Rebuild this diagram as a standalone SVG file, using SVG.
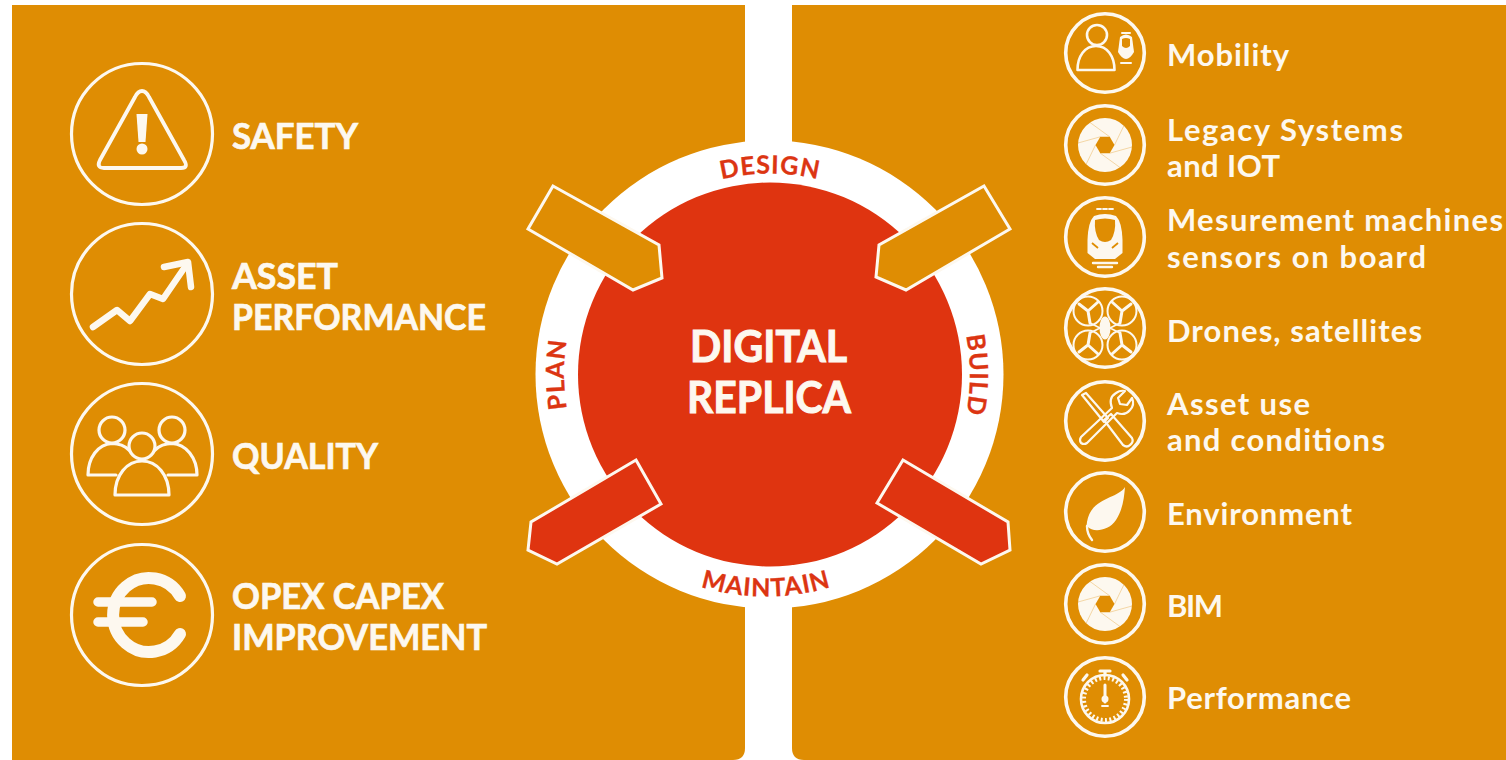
<svg xmlns="http://www.w3.org/2000/svg" width="1506" height="760" viewBox="0 0 1506 760">
<style>
.panel{fill:#DF8D03}
.ring{fill:none;stroke:#FDF8EF}
.big{stroke-width:3.2}
.small{stroke-width:3.6}
.line{fill:none;stroke:#FDF8EF;stroke-linecap:round;stroke-linejoin:round}
.solid{fill:#FDF8EF}
.org{fill:#DF8D03}
.lt{font-family:"Lato","Liberation Sans",sans-serif;font-weight:700;font-size:36px;fill:#FDF8EF;stroke:#FDF8EF;stroke-width:.7}
.rt{font-family:"Lato","Liberation Sans",sans-serif;font-weight:700;font-size:31px;fill:#FDF8EF}
.ct{font-family:"Lato","Liberation Sans",sans-serif;font-weight:700;font-size:44px;fill:#FDF8EF;stroke:#FDF8EF;stroke-width:1}
.arc{font-family:"Lato","Liberation Sans",sans-serif;font-weight:700;font-size:25px;fill:#DC3512;stroke:#DC3512;stroke-width:.3;text-anchor:middle;letter-spacing:1px}
.arrow{stroke:#FDF8EF;stroke-width:3;stroke-linejoin:miter}
</style>
<defs>
<path id="pDesign" d="M569 374.500A201 201 0 0 1 971 374.500"/>
<path id="pMaintain" d="M544 374.500A222 222 0 0 0 988 374.500"/>
<path id="pPlan" d="M767 577.500A203 203 0 0 1 767 171.500"/>
<path id="pBuild" d="M770 175A200 200 0 0 1 770 575"/>
<g id="shutter">
<circle r="27" class="solid"/>
<polygon points="9.500,0 4.700,8.200 -4.700,8.200 -9.500,0 -4.700,-8.200 4.700,-8.200" class="org"/>
<path d="M9.500 0L19 -19.500M4.700 -8.200L-15 -22.500M-4.700 -8.200L-27 -2M-9.500 0L-19 19.500M-4.700 8.200L15 22.500M4.700 8.200L27 2" fill="none" stroke="#DF8D03" stroke-width="0.700" opacity="0.450"/>
</g>
</defs>
<rect width="1506" height="760" fill="#FFFFFF"/>
<g id="panels">
<path class="panel" d="M12 5H745V748Q745 760 733 760H12Z"/>
<path class="panel" d="M792 5H1506V760H804Q792 760 792 748Z"/>
</g>
<g id="hub">
<circle cx="769.500" cy="374.500" r="234" fill="#FFFFFF"/>
<circle cx="770" cy="374.500" r="192" fill="#DF3410"/>
<text class="ct" x="690" y="362" textLength="157" lengthAdjust="spacingAndGlyphs">DIGITAL</text>
<text class="ct" x="687" y="412.500" textLength="164" lengthAdjust="spacingAndGlyphs">REPLICA</text>
<text class="arc"><textPath href="#pDesign" startOffset="50%">DESIGN</textPath></text>
<text class="arc"><textPath href="#pMaintain" startOffset="50%">MAINTAIN</textPath></text>
<text class="arc"><textPath href="#pPlan" startOffset="50%">PLAN</textPath></text>
<text class="arc"><textPath href="#pBuild" startOffset="50%">BUILD</textPath></text>
</g>
<g id="connectors">
<polygon class="arrow" fill="#DF8D03" points="553,186 659,245 662,278 633,290 528,229"/>
<polygon class="arrow" fill="#DF8D03" points="984,186 1010,229 906,290 876,277 879,245"/>
<polygon class="arrow" fill="#DF3410" points="636,460 661,504 557,564 528,550 531,522"/>
<polygon class="arrow" fill="#DF3410" points="903,460 1008,522 1010,550 981,564 877,503"/>
</g>
<g id="safety">
<circle class="ring big" cx="142" cy="134" r="70.500"/>
<path class="line" stroke-width="3.800" d="M142 91Q138 91 135 97L100 160Q96 168 104 168H181Q189 168 184 160L149 97Q146 91 142 91Z"/>
<path class="solid" d="M136.500 114H147.500L145.500 142H138.500Z"/>
<circle class="solid" cx="142" cy="149" r="5.500"/>
<text class="lt" x="232" y="149" textLength="126" lengthAdjust="spacingAndGlyphs">SAFETY</text>
</g>
<g id="asset-performance">
<circle class="ring big" cx="142" cy="294" r="70.500"/>
<path class="line" stroke-width="6.500" d="M93 327L117 310L130 321L150 294L163 299L187 264"/>
<path class="line" stroke-width="6.500" d="M164 267L188 262L191 287"/>
<text class="lt" x="232" y="289" textLength="106" lengthAdjust="spacingAndGlyphs">ASSET</text>
<text class="lt" x="232" y="330" textLength="254" lengthAdjust="spacingAndGlyphs">PERFORMANCE</text>
</g>
<g id="quality">
<circle class="ring big" cx="142" cy="454" r="70.500"/>
<g class="line" stroke-width="3.200">
<circle cx="112" cy="430" r="13"/>
<circle cx="172" cy="430" r="13"/>
<circle cx="142" cy="446" r="13"/>
<path d="M116 475H88C88 458 98 444 112 443.500C118 443.500 124 445 129 450"/>
<path d="M168 475H197C197 458 186 444 172 443.500C166 443.500 160 445 155 450"/>
<path d="M115 495H169C169 475 157 461 142 461C127 461 115 475 115 495Z"/>
</g>
<text class="lt" x="232" y="469" textLength="146" lengthAdjust="spacingAndGlyphs">QUALITY</text>
</g>
<g id="opex-capex">
<circle class="ring big" cx="142" cy="615" r="70.500"/>
<path class="line" stroke-width="12" d="M180 596A36 37 0 1 0 180 634"/>
<path class="line" stroke-width="9.500" d="M98 602H152M98 622H143"/>
<text class="lt" x="232" y="609" textLength="212" lengthAdjust="spacingAndGlyphs">OPEX CAPEX</text>
<text class="lt" x="232" y="650" textLength="255" lengthAdjust="spacingAndGlyphs">IMPROVEMENT</text>
</g>
<g id="mobility">
<circle class="ring small" cx="1105" cy="53" r="39.300"/>
<circle class="line" stroke-width="2.600" cx="1097" cy="35" r="10"/>
<path class="line" stroke-width="2.600" d="M1077.500 70H1114.500C1114.500 56 1107 46 1096 46C1085 46 1077.500 56 1077.500 70Z"/>
<path class="solid" d="M1120 37Q1126 32 1132 37L1134 52Q1130 59 1126 59Q1122 59 1118 52Z"/>
<path class="org" d="M1122 39Q1126 37 1130 39L1130 46Q1126 50 1122 46Z"/>
<path class="line" stroke-width="2" d="M1122 33H1130M1121 63H1131"/>
<text class="rt" x="1167" y="66" textLength="122">Mobility</text>
</g>
<g id="legacy">
<circle class="ring small" cx="1105" cy="145" r="39.300"/>
<use href="#shutter" x="1105" y="145"/>
<text class="rt" x="1167" y="141" textLength="236">Legacy Systems</text>
<text class="rt" x="1167" y="177" textLength="113">and IOT</text>
</g>
<g id="mesurement">
<circle class="ring small" cx="1105" cy="237" r="39.300"/>
<path class="solid" d="M1094 216Q1105 212 1116 216Q1122 222 1122.500 240L1122.500 253L1115 259H1095L1087.500 253L1087.500 240Q1088 222 1094 216Z"/>
<path class="org" d="M1095 220Q1105 217 1115 220Q1116 232 1111 240Q1105 244 1099 240Q1094 232 1095 220Z"/>
<path d="M1092 243L1098 248M1118 243L1112 248" stroke="#DF8D03" stroke-width="1.800" fill="none"/>
<path class="line" stroke-width="1.800" d="M1097 209H1101M1103 209H1107M1109 209H1113"/>
<path class="line" stroke-width="2.400" d="M1093 263H1117M1098 267H1112"/>
<text class="rt" x="1167" y="231" textLength="336">Mesurement machines</text>
<text class="rt" x="1167" y="268" textLength="259">sensors on board</text>
</g>
<g id="drones">
<circle class="ring small" cx="1105" cy="328" r="39.300"/>
<g class="line" stroke-width="2">
<circle cx="1088" cy="311" r="14.500"/>
<circle cx="1122" cy="311" r="14.500"/>
<circle cx="1088" cy="345" r="14.500"/>
<circle cx="1122" cy="345" r="14.500"/>
<ellipse cx="1105" cy="328" rx="4.500" ry="10.500" fill="#FDF8EF"/>
</g>
<g class="line" stroke-width="3">
<path d="M1088 311L1098 302M1088 311L1079 304M1088 311L1090 323"/>
<path d="M1122 311L1112 302M1122 311L1131 304M1122 311L1120 323"/>
<path d="M1088 345L1098 354M1088 345L1079 352M1088 345L1090 333"/>
<path d="M1122 345L1112 354M1122 345L1131 352M1122 345L1120 333"/>
<path stroke-width="1.800" d="M1090 323L1100 328M1120 323L1110 328M1090 333L1100 328M1120 333L1110 328"/>
</g>
<text class="rt" x="1167" y="342" textLength="255">Drones, satellites</text>
</g>
<g id="asset-use">
<circle class="ring small" cx="1105" cy="421" r="39.300"/>
<path class="line" stroke-width="2.200" d="M1082 395L1086 393L1108 418L1104 422Z"/>
<path class="line" stroke-width="2.200" d="M1104 420L1111 414L1132 438Q1134 442 1130 445Q1127 448 1123 445Z"/>
<path class="line" stroke-width="2.200" d="M1081 437L1112 408Q1108 398 1116 393Q1120 390 1125 391L1118 398L1120 404L1127 405L1132 398Q1135 405 1130 410Q1125 416 1117 413L1087 443Q1084 445 1081 443Q1079 440 1081 437Z"/>
<text class="rt" x="1167" y="415" textLength="143">Asset use</text>
<text class="rt" x="1167" y="451" textLength="218">and conditions</text>
</g>
<g id="environment">
<circle class="ring small" cx="1105" cy="512" r="39.300"/>
<path class="solid" d="M1125 487C1118 499 1091 497 1087 522C1086 529 1087 531 1088 527C1092 532 1108 532 1116 520C1123 509 1124 498 1125 487Z"/>
<path class="line" stroke-width="2.400" d="M1087 526Q1087 534 1092 540"/>
<text class="rt" x="1167" y="525" textLength="185">Environment</text>
</g>
<g id="bim">
<circle class="ring small" cx="1105" cy="604" r="39.300"/>
<use href="#shutter" x="1105" y="604"/>
<text class="rt" x="1167" y="617" textLength="56">BIM</text>
</g>
<g id="performance">
<circle class="ring small" cx="1105" cy="697" r="39.300"/>
<circle class="line" stroke-width="2.600" cx="1105" cy="699" r="24"/>
<circle cx="1105" cy="699" r="21" fill="none" stroke="#FDF8EF" stroke-width="4" stroke-dasharray="2 2.400"/>
<path class="line" stroke-width="3.200" d="M1100 671H1110M1105 671V675M1083 680L1087 675M1127 680L1123 675"/>
<path class="line" stroke-width="3" d="M1105 685V702"/>
<circle class="solid" cx="1105" cy="699" r="3.500"/>
<path class="line" stroke-width="1.800" d="M1102 706H1108"/>
<text class="rt" x="1167" y="709" textLength="184">Performance</text>
</g>
</svg>
